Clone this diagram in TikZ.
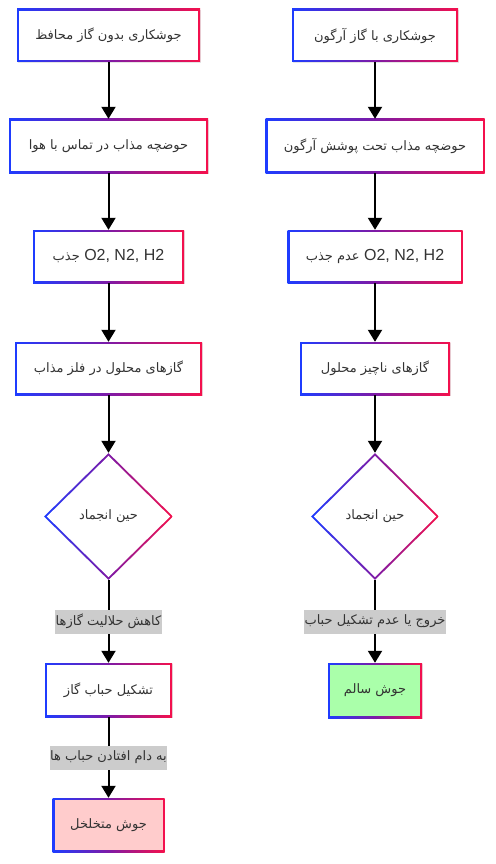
\documentclass[tikz,border=0pt]{standalone}
\usepackage{fontspec}
\setmainfont{Liberation Sans}
\newfontfamily\fa[Script=Arabic]{DejaVu Sans}
\TeXXeTstate=1
\usetikzlibrary{arrows.meta,shapes.geometric,shadows}
\definecolor{gblue}{HTML}{1E3CFF}
\definecolor{gmid}{HTML}{7E1AA6}
\definecolor{gred}{HTML}{F5104C}
\definecolor{txt}{HTML}{333333}
\definecolor{lblgray}{HTML}{CCCCCC}
\definecolor{pinkf}{HTML}{FFCCCC}
\definecolor{greenf}{HTML}{AAFFAA}
\newcommand\fatxt[1]{{\fa\fontsize{13}{18}\selectfont\beginR #1\endR}}
\tikzset{
  basefont/.style={font=\fontsize{16}{19}\selectfont, text=txt},
  gbox/.style={rectangle, inner sep=0pt, basefont,
    drop shadow={shadow xshift=0.6pt, shadow yshift=-1.2pt, opacity=0.10, fill=black},
    path picture={
      \shade[left color=gblue, right color=gred, middle color=gmid]
        (path picture bounding box.south west) rectangle (path picture bounding box.north east);
      \fill[#1] ([shift={(2pt,2pt)}]path picture bounding box.south west)
        rectangle ([shift={(-2pt,-2pt)}]path picture bounding box.north east);
    }},
  gbox/.default=white,
  gdia/.style={diamond, inner sep=0pt, basefont,
    path picture={
      \shade[left color=gblue, right color=gred, middle color=gmid]
        (path picture bounding box.south west) rectangle (path picture bounding box.north east);
      \fill[white] ([yshift=-2.8pt]path picture bounding box.north)
        -- ([xshift=-2.8pt]path picture bounding box.east)
        -- ([yshift=2.8pt]path picture bounding box.south)
        -- ([xshift=2.8pt]path picture bounding box.west) -- cycle;
    }},
  arr/.style={line width=2pt, draw=black, -{Triangle[width=14pt,length=12pt]}},
  lbl/.style={fill=lblgray, inner xsep=0.5pt, inner ysep=0pt, minimum height=24pt, basefont},
}
\begin{document}
\begin{tikzpicture}[x=1pt,y=-1pt]
\useasboundingbox[fill=white] (0,0) rectangle (495,864);
% left column
\node[gbox, minimum width=183pt, minimum height=53pt] (l1) at (108.5,35.5) {\fatxt{جوشکاری بدون گاز محافظ}};
\node[gbox, minimum width=199pt, minimum height=54pt] (l2) at (108.5,146) {\fatxt{حوضچه مذاب در تماس با هوا}};
\node[gbox, minimum width=151pt, minimum height=53pt] (l3) at (108.5,256.5) {\fatxt{جذب} O2, N2, H2};
\node[gbox, minimum width=187pt, minimum height=53pt] (l4) at (108.5,368.5) {\fatxt{گازهای محلول در فلز مذاب}};
\node[gdia, minimum width=129pt, minimum height=127pt] (ld) at (108.5,516.5) {\fatxt{حین انجماد}};
\node[gbox, minimum width=127pt, minimum height=54pt] (l5) at (108.5,690) {\fatxt{تشکیل حباب گاز}};
\node[gbox=pinkf, minimum width=112pt, minimum height=54pt] (l6) at (108.5,825) {\fatxt{جوش متخلخل}};
% right column
\node[gbox, minimum width=166pt, minimum height=53pt] (r1) at (375,35.5) {\fatxt{جوشکاری با گاز آرگون}};
\node[gbox, minimum width=219pt, minimum height=54pt] (r2) at (375,146) {\fatxt{حوضچه مذاب تحت پوشش آرگون}};
\node[gbox, minimum width=175pt, minimum height=53pt] (r3) at (375,256.5) {\fatxt{عدم جذب} O2, N2, H2};
\node[gbox, minimum width=150pt, minimum height=53pt] (r4) at (375,368.5) {\fatxt{گازهای ناچیز محلول}};
\node[gdia, minimum width=128pt, minimum height=127pt] (rd) at (375,516.5) {\fatxt{حین انجماد}};
\node[gbox=greenf, minimum width=94pt, minimum height=55pt] (r5) at (375,690.5) {\fatxt{جوش سالم}};
% connectors
\draw[arr] (l1.south) -- (l2.north);
\draw[arr] (l2.south) -- (l3.north);
\draw[arr] (l3.south) -- (l4.north);
\draw[arr] (l4.south) -- (ld.north);
\draw[arr] (ld.south) -- node[lbl] (lb1) {\fatxt{کاهش حلالیت گازها}} (l5.north);
\draw[arr] (l5.south) -- node[lbl] (lb2) {\fatxt{به دام افتادن حباب ها}} (l6.north);
\draw[arr] (r1.south) -- (r2.north);
\draw[arr] (r2.south) -- (r3.north);
\draw[arr] (r3.south) -- (r4.north);
\draw[arr] (r4.south) -- (rd.north);
\draw[arr] (rd.south) -- node[lbl] (lb3) {\fatxt{خروج یا عدم تشکیل حباب}} (r5.north);
\end{tikzpicture}
\end{document}
